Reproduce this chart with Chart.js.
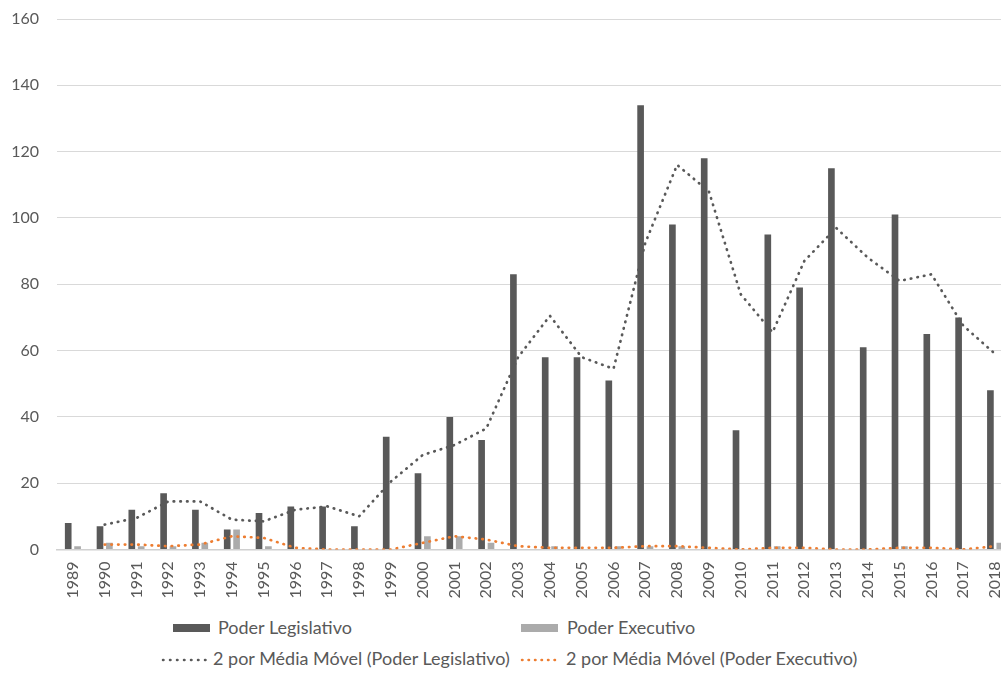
<!DOCTYPE html>
<html>
<head>
<meta charset="utf-8">
<script src="https://cdn.jsdelivr.net/npm/chart.js@4"></script>
<style>
  html, body { margin: 0; padding: 0; background: #fff; overflow: hidden; }
  body { width: 1001px; height: 673px; position: relative; font-family: Lato, "Open Sans", sans-serif; }
  #chart { position: absolute; left: 0; top: 0; }
  .lg { position: absolute; font-size: 18px; line-height: 22px; color: #595959; white-space: nowrap; }
  .box { position: absolute; height: 8px; width: 37px; }
  .dots { position: absolute; }
</style>
</head>
<body>
<canvas id="chart" width="1011" height="612"></canvas>

<div class="box" style="left:173px; top:624px; background:#595959;"></div>
<div class="lg" style="left:218px; top:616px;">Poder Legislativo</div>
<div class="box" style="left:521px; top:624px; background:#ABABAB;"></div>
<div class="lg" style="left:567px; top:616px;">Poder Executivo</div>

<svg class="dots" style="left:160px; top:656px;" width="52" height="8">
  <line x1="3" y1="4" x2="49" y2="4" stroke="#595959" stroke-width="2.5" stroke-linecap="round" stroke-dasharray="0.5 6.5"/>
</svg>
<div class="lg" style="left:213px; top:647px;">2 por Média Móvel (Poder Legislativo)</div>
<svg class="dots" style="left:519px; top:656px;" width="46" height="8">
  <line x1="3" y1="4" x2="42" y2="4" stroke="#ED7D31" stroke-width="2.5" stroke-linecap="round" stroke-dasharray="0.5 6"/>
</svg>
<div class="lg" style="left:566px; top:647px;">2 por Média Móvel (Poder Executivo)</div>

<script>
// Years on the category axis
const years = ['1989','1990','1991','1992','1993','1994','1995','1996','1997','1998',
  '1999','2000','2001','2002','2003','2004','2005','2006','2007','2008',
  '2009','2010','2011','2012','2013','2014','2015','2016','2017','2018'];

// Proposals per year, by branch
const legislativo = [8, 7, 12, 17, 12, 6, 11, 13, 13, 7,
  34, 23, 40, 33, 83, 58, 58, 51, 134, 98,
  118, 36, 95, 79, 115, 61, 101, 65, 70, 48];
const executivo = [1, 2, 1, 1, 2, 6, 1, 0, 0, 0,
  0, 4, 4, 2, 0, 1, 0, 1, 1, 1,
  0, 0, 1, 0, 0, 0, 1, 0, 0, 2];

// Two-period moving averages (no value for the first year)
const mediaLegislativo = [null, 7.5, 9.5, 14.5, 14.5, 9, 8.5, 12, 13, 10,
  20.5, 28.5, 31.5, 36.5, 58, 70.5, 58, 54.5, 92.5, 116,
  108, 77, 65.5, 87, 97, 88, 81, 83, 67.5, 59];
const mediaExecutivo = [null, 1.5, 1.5, 1, 1.5, 4, 3.5, 0.5, 0, 0,
  0, 2, 4, 3, 1, 0.5, 0.5, 0.5, 1, 1,
  0.5, 0, 0.5, 0.5, 0, 0, 0.5, 0.5, 0, 1];

// Value axis ticks
const yMin = 0, yMax = 160, yStep = 20;

const textColor = '#595959';
const gridColor = '#D9D9D9';
const font = { family: 'Lato, "Open Sans", sans-serif', size: 16 };

new Chart(document.getElementById('chart'), {
  data: {
    labels: years,
    datasets: [
      {
        type: 'line', label: '2 por Média Móvel (Poder Legislativo)', data: mediaLegislativo,
        borderColor: '#595959', borderWidth: 2.7, borderDash: [0.5, 6.2], borderCapStyle: 'round',
        pointRadius: 0, tension: 0, fill: false, order: 0
      },
      {
        type: 'line', label: '2 por Média Móvel (Poder Executivo)', data: mediaExecutivo,
        borderColor: '#ED7D31', borderWidth: 2.7, borderDash: [0.5, 6.2], borderCapStyle: 'round',
        pointRadius: 0, tension: 0, fill: false, order: 0
      },
      {
        type: 'bar', label: 'Poder Legislativo', data: legislativo,
        backgroundColor: '#595959', borderWidth: 0,
        barPercentage: 0.71, categoryPercentage: 0.59, order: 1
      },
      {
        type: 'bar', label: 'Poder Executivo', data: executivo,
        backgroundColor: '#ABABAB', borderWidth: 0,
        barPercentage: 0.71, categoryPercentage: 0.59, order: 1
      }
    ]
  },
  options: {
    responsive: false,
    animation: false,
    layout: { padding: { top: 19, right: 0, left: 0, bottom: 0 } },
    plugins: { legend: { display: false }, tooltip: { enabled: false } },
    scales: {
      x: {
        offset: true,
        grid: { display: false, drawTicks: false },
        border: { display: true, color: '#D0D0D0', width: 1.5 },
        ticks: { color: textColor, font: font, minRotation: 90, maxRotation: 90, padding: 12, autoSkip: false },
        afterFit: s => { s.height = 62.5; s.paddingLeft = 0; s.paddingRight = 0; s.paddingTop = 0; s.paddingBottom = 0; }
      },
      y: {
        min: yMin, max: yMax,
        grid: { color: gridColor, lineWidth: 1, drawTicks: false },
        border: { display: false },
        ticks: { stepSize: yStep, color: textColor, font: font, padding: 18 },
        afterFit: s => { s.width = 57; s.paddingTop = 0; s.paddingBottom = 0; }
      }
    }
  }
});
</script>
</body>
</html>
